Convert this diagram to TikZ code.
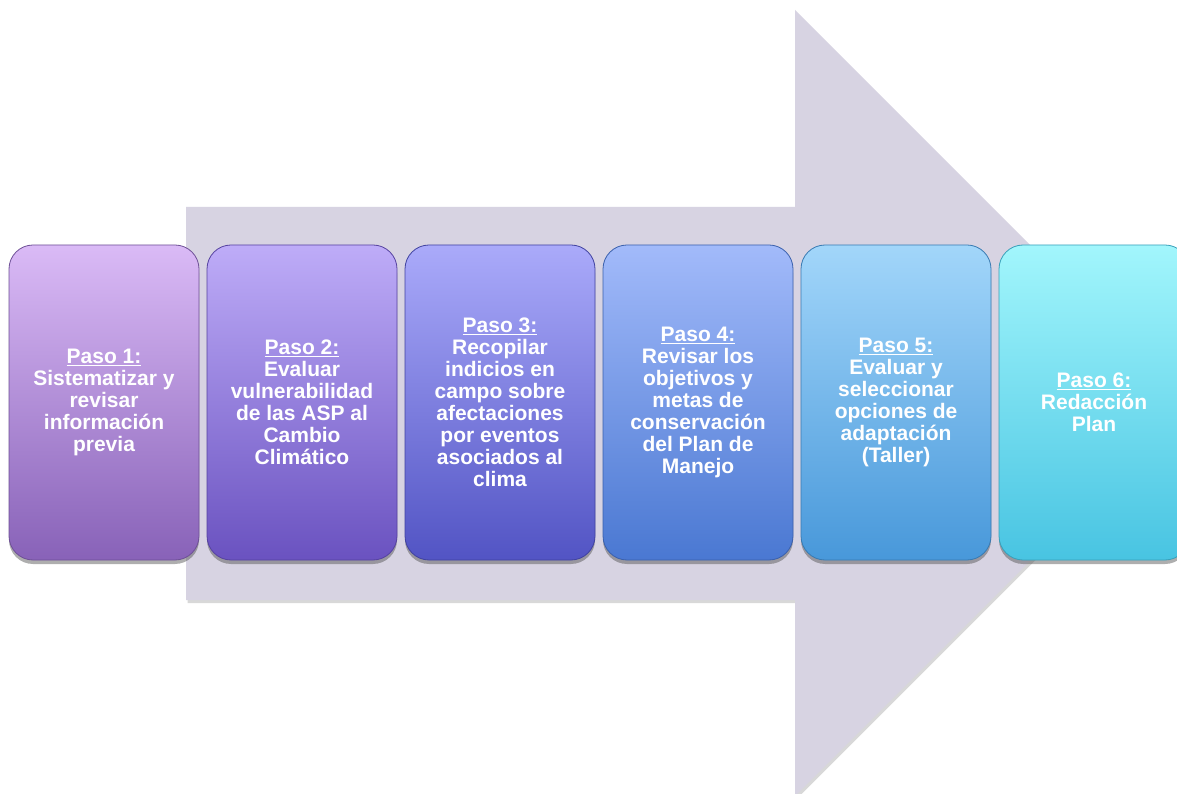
\documentclass[tikz,border=0pt]{standalone}
\usepackage{fontspec}
\setmainfont{Liberation Sans}
\usetikzlibrary{shadows}
\definecolor{arrowgray}{HTML}{D7D3E2}
\tikzset{
  stepbox/.style={rounded corners=24pt, minimum width=190pt, minimum height=315pt,
    inner sep=0pt, align=center, text=white,
    font=\fontsize{21}{22}\selectfont\bfseries,
    line width=0.8pt,
    drop shadow={shadow xshift=0pt, shadow yshift=-4pt, opacity=0.45, fill=black!70}},
  bigarrow/.style={fill=arrowgray,
    drop shadow={shadow xshift=1.5pt, shadow yshift=-3pt, opacity=0.25, fill=black!60}}
}
\newcommand{\paso}[1]{\underline{Paso #1:}}
\begin{document}
\begin{tikzpicture}[x=1pt,y=1pt]
\useasboundingbox (0,0) rectangle (1177,793);
\clip (0,0) rectangle (1177,793);
\fill[white] (0,0) rectangle (1177,793);
\path[bigarrow] (186,586) -- (795,586) -- (795,783) -- (1188,390) -- (795,-3) -- (795,193) -- (186,193) -- cycle;
\node[stepbox, top color={rgb,255:red,218;green,186;blue,246}, bottom color={rgb,255:red,136;green,98;blue,184}, draw={rgb,255:red,110;green,80;blue,150}] (s1) at (104,390.5)
  {\paso{1}\\Sistematizar y\\revisar\\información\\previa};
\node[stepbox, top color={rgb,255:red,190;green,172;blue,248}, bottom color={rgb,255:red,106;green,82;blue,192}, draw={rgb,255:red,86;green,66;blue,160}] (s2) at (302,390.5)
  {\paso{2}\\Evaluar\\vulnerabilidad\\de las ASP al\\Cambio\\Climático};
\node[stepbox, top color={rgb,255:red,170;green,170;blue,250}, bottom color={rgb,255:red,82;green,84;blue,196}, draw={rgb,255:red,64;green,66;blue,160}] (s3) at (500,390.5)
  {\paso{3}\\Recopilar\\indicios en\\campo sobre\\afectaciones\\por eventos\\asociados al\\clima};
\node[stepbox, top color={rgb,255:red,162;green,186;blue,250}, bottom color={rgb,255:red,74;green,120;blue,210}, draw={rgb,255:red,58;green,96;blue,172}] (s4) at (698,390.5)
  {\paso{4}\\Revisar los\\objetivos y\\metas de\\conservación\\del Plan de\\Manejo};
\node[stepbox, top color={rgb,255:red,162;green,214;blue,250}, bottom color={rgb,255:red,72;green,152;blue,218}, draw={rgb,255:red,56;green,122;blue,178}] (s5) at (896,390.5)
  {\paso{5}\\Evaluar y\\seleccionar\\opciones de\\adaptación\\(Taller)};
\node[stepbox, top color={rgb,255:red,162;green,246;blue,252}, bottom color={rgb,255:red,72;green,196;blue,226}, draw={rgb,255:red,56;green,160;blue,186}] (s6) at (1094,390.5)
  {\paso{6}\\Redacción\\Plan};
\end{tikzpicture}
\end{document}
